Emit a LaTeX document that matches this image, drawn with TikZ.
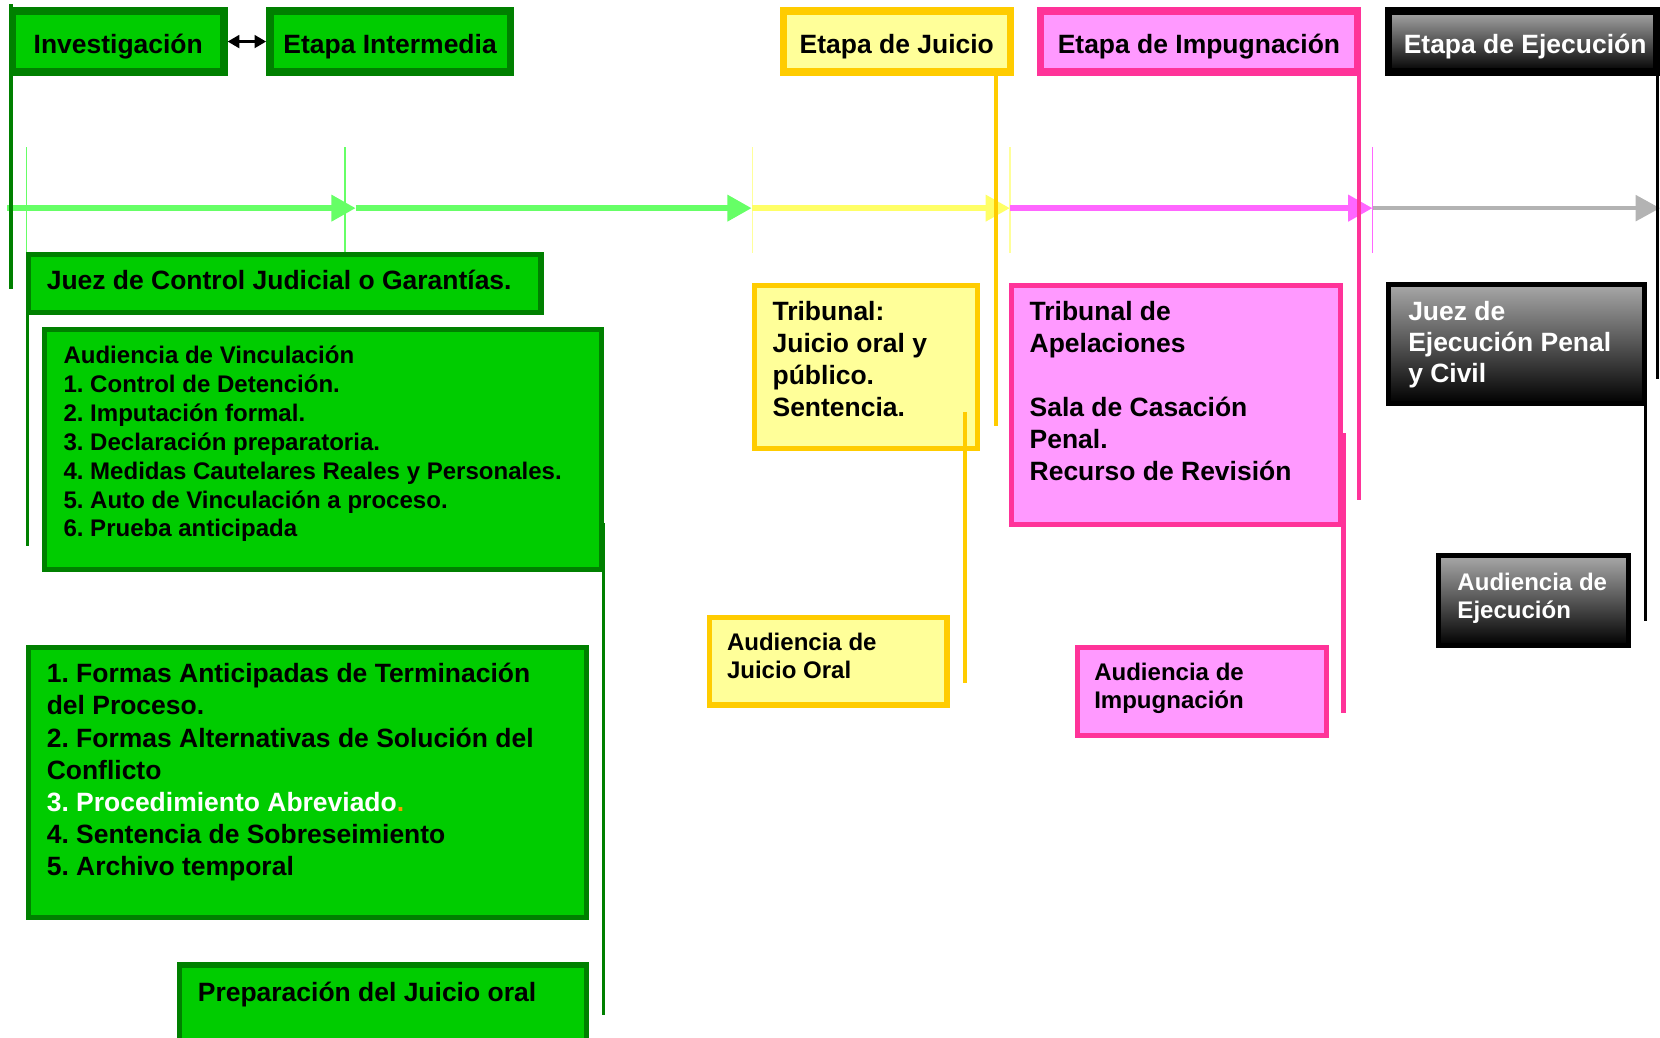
\documentclass[tikz,border=0pt]{standalone}
\usepackage{fontspec}
\setmainfont{Liberation Sans}
\usetikzlibrary{arrows.meta,fit}
\definecolor{gfill}{HTML}{00CC00}
\definecolor{gline}{HTML}{008000}
\definecolor{lgreen}{HTML}{66FF66}
\definecolor{yfill}{HTML}{FFFF99}
\definecolor{yline}{HTML}{FFCC00}
\definecolor{ylight}{HTML}{FFFF66}
\definecolor{pfill}{HTML}{FF99FF}
\definecolor{pline}{HTML}{FF3399}
\definecolor{plight}{HTML}{FF66FF}
\definecolor{tgray}{HTML}{B3B3B3}
\definecolor{orng}{HTML}{FF9900}
\definecolor{gtop}{HTML}{A8A8A8}
\newcommand\tstrut{\rule{0pt}{0.8em}}
\frenchspacing
\begin{document}
\begin{tikzpicture}[x=1pt,y=-1pt,
  pbox/.style={draw, rectangle, inner sep=0pt, line width=4.8pt},
  topbox/.style={pbox, line width=7pt},
  greenbox/.style={fill=gfill, draw=gline},
  yellowbox/.style={fill=yfill, draw=yline},
  pinkbox/.style={fill=pfill, draw=pline},
  blackbox/.style={draw=black, top color=gtop, bottom color=black},
  toptext/.style={anchor=base, inner sep=0pt, font=\fontsize{25}{30}\selectfont\bfseries},
  bigtext/.style={anchor=north west, inner sep=0pt, align=left, font=\fontsize{25}{30.2}\selectfont\bfseries},
  smalltext/.style={anchor=north west, inner sep=0pt, align=left, font=\fontsize{22.7}{26.7}\selectfont\bfseries},
  tickline/.style={line width=1.2pt},
  timeline/.style={line width=5.4pt, -{Triangle[length=23pt,width=24pt]}},
  stemline/.style={line width=#1},
]
\useasboundingbox (0,0) rectangle (1568,980);
\clip (0,0) rectangle (1568,980);

% ---- ticks on the time line
\draw[tickline, lgreen] (25.3,139) coordinate (k1a) -- (25.3,239) coordinate (k1b);
\draw[tickline, lgreen] (326,139) coordinate (k2a) -- (326,239) coordinate (k2b);
\draw[tickline, yfill] (711,139) coordinate (k3a) -- (711,239) coordinate (k3b);
\draw[tickline, yfill] (954,139) coordinate (k4a) -- (954,239) coordinate (k4b);
\draw[tickline, plight] (1296.5,139) coordinate (k5a) -- (1296.5,239) coordinate (k5b);

% ---- time line
\coordinate (t0) at (7,196.6);
\coordinate (t1) at (336,196.6);
\coordinate (t2) at (710,196.6);
\coordinate (t3) at (954,196.6);
\coordinate (t4) at (1296.5,196.6);
\coordinate (t5) at (1568,196.6);
\draw[timeline, lgreen] (t0) -- (t1);
\draw[timeline, lgreen] (t1) -- (t2);
\draw[timeline, ylight] (t2) -- (t3);
\draw[timeline, plight] (t3) -- (t4);
\draw[timeline, tgray, line width=4pt] (t4) -- (t5);

% ---- top boxes
\node[topbox, greenbox, fit={(11.9,10.5) (211.5,68)}] (inv) {};
\node[topbox, greenbox, fit={(254.9,10.5) (482.2,68)}] (int) {};
\node[topbox, yellowbox, fit={(739.9,10.5) (954.3,68)}] (jui) {};
\node[topbox, pinkbox, fit={(982.8,10.5) (1282.3,68)}] (imp) {};
\node[topbox, blackbox, fit={(1311.3,10.5) (1565,68)}] (eje) {};

\node[toptext] (inv-t) at (111.7,50.4) {Investigación};
\node[toptext] (int-t) at (368.5,50.4) {Etapa Intermedia};
\node[toptext] (jui-t) at (847.1,50.4) {Etapa de Juicio};
\node[toptext] (imp-t) at (1132.5,50.4) {Etapa de Impugnación};
\node[toptext, text=white] (eje-t) at (1440.6,50.4) {Etapa de Ejecución};

\draw[line width=2.5pt, {Triangle[length=11pt,width=12pt]}-{Triangle[length=11pt,width=12pt]}] (inv.east) -- (int.west);

% ---- lower boxes
\node[pbox, greenbox, fit={(26.5,240) (511,295.1)}] (jcj) {};
\node[pbox, greenbox, fit={(41.7,311.1) (568.2,537.5)}] (avin) {};
\node[pbox, greenbox, fit={(26.8,611.5) (554,866.5)}] (formas) {};
\node[pbox, greenbox, fit={(169.5,911.5) (554,997.5)}] (prep) {};
\node[pbox, yellowbox, fit={(712.5,269.5) (923.5,423.5)}] (trib) {};
\node[pbox, yellowbox, fit={(670.2,583.5) (894.5,665.9)}] (ajo) {};
\node[pbox, pinkbox, fit={(955.3,270.1) (1266.5,495)}] (tap) {};
\node[pbox, pinkbox, fit={(1017.5,611.8) (1253,694.9)}] (aimp) {};
\node[pbox, blackbox, fit={(1311.5,268.5) (1553.5,381.5)}] (jej) {};
\node[pbox, blackbox, fit={(1358.9,525.1) (1538.5,609.9)}] (aej) {};

\node[bigtext] (jcj-t) at (44,253.3) {\tstrut Juez de Control Judicial o Garantías.};
\node[smalltext, font=\fontsize{22.7}{27.3}\selectfont\bfseries] (avin-t) at (59.8,325) {\tstrut Audiencia de Vinculación\\
1. Control de Detención.\\
2. Imputación formal.\\
3. Declaración preparatoria.\\
4. Medidas Cautelares Reales y Personales.\\
5. Auto de Vinculación a proceso.\\
6. Prueba anticipada};
\node[bigtext, font=\fontsize{25}{30.3}\selectfont\bfseries] (formas-t) at (44,624.8) {\tstrut 1. Formas Anticipadas de Terminación\\
del Proceso.\\
2. Formas Alternativas de Solución del\\
Conflicto\\
\textcolor{white}{3. Procedimiento Abreviado}\textcolor{orng}{.}\\
4. Sentencia de Sobreseimiento\\
5. Archivo temporal};
\node[bigtext] (prep-t) at (186.7,925.5) {\tstrut Preparación del Juicio oral};
\node[bigtext] (trib-t) at (729.6,282.3) {\tstrut Tribunal:\\
Juicio oral y\\
público.\\
Sentencia.};
\node[bigtext] (tap-t) at (972.4,282.3) {\tstrut Tribunal de\\
Apelaciones\\[30.2pt]
Sala de Casación\\
Penal.\\
Recurso de Revisión};
\node[smalltext] (ajo-t) at (686.5,595.8) {\tstrut Audiencia de\\
Juicio Oral};
\node[smalltext] (aimp-t) at (1033.4,624.1) {\tstrut Audiencia de\\
Impugnación};
\node[bigtext, text=white, font=\fontsize{25}{29.3}\selectfont\bfseries] (jej-t) at (1330,282.9) {\tstrut Juez de\\
Ejecución Penal\\
y Civil};
\node[smalltext, text=white] (aej-t) at (1376.5,539.1) {\tstrut Audiencia de\\
Ejecución};

% ---- vertical stems
\coordinate (s1a) at (10.5,4);
\coordinate (s1b) at (10.5,273);
\draw[stemline=4pt, gline] (s1a) -- (s1b);
\coordinate (s2b) at (25.8,516);
\draw[stemline=3pt, gline] (jcj.south -| s2b) -- (s2b);
\coordinate (s3a) at (570,494);
\coordinate (s3b) at (570,958.7);
\draw[stemline=3pt, gline] (s3a) -- (s3b);
\coordinate (s4b) at (940.8,402);
\draw[stemline=4pt, yline] (jui.south -| s4b) -- (s4b);
\coordinate (s5a) at (911.8,389);
\coordinate (s5b) at (911.8,645);
\draw[stemline=4pt, yline] (s5a) -- (s5b);
\coordinate (s6b) at (1283.6,472.5);
\draw[stemline=4pt, pline] (imp.south -| s6b) -- (s6b);
\coordinate (s7a) at (1269,409);
\coordinate (s7b) at (1269,673.6);
\draw[stemline=4pt, pline] (s7a) -- (s7b);
\coordinate (s8b) at (1566,358);
\draw[stemline=3pt, black] (eje.north -| s8b) -- (s8b);
\coordinate (s9a) at (1554,346);
\coordinate (s9b) at (1554,587);
\draw[stemline=3pt, black] (s9a) -- (s9b);
\end{tikzpicture}
\end{document}
